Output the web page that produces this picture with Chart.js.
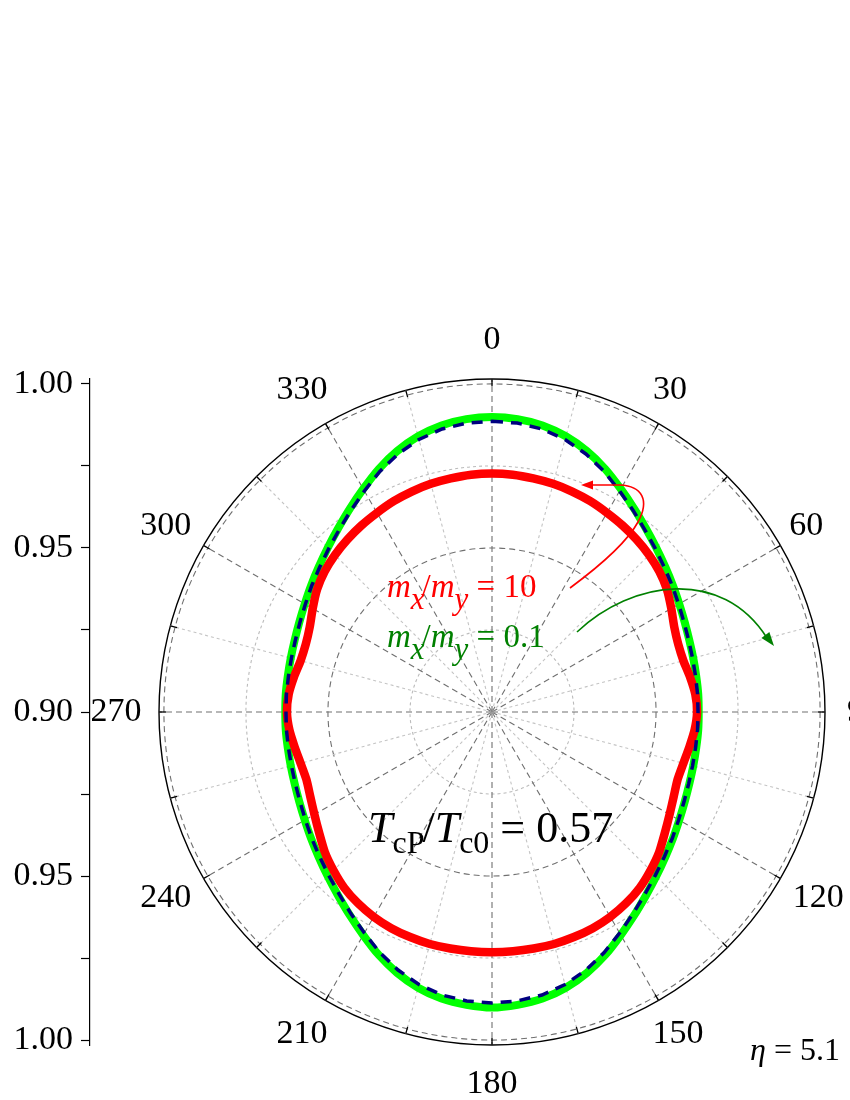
<!DOCTYPE html>
<html>
<head>
<meta charset="utf-8">
<script src="https://cdn.jsdelivr.net/npm/chart.js@4.4.1/dist/chart.umd.min.js"></script>
<style>
  html, body { margin: 0; padding: 0; background: #fff; }
  #wrap { width: 850px; height: 1100px; }
</style>
</head>
<body>
<div id="wrap"><canvas id="polar" width="850" height="1100"></canvas></div>
<script>
// angles (deg, clockwise from top) every 5 degrees
const angles = [];
for (let a = 0; a < 360; a += 5) angles.push(String(a));

// labelled angles around the rim
const angleTicks = [0, 30, 60, 90, 120, 150, 180, 210, 240, 270, 300, 330];

// left axis ticks (0.80..0.90 is the mirrored lower half)
const yTickValues = [0.80, 0.825, 0.85, 0.875, 0.90, 0.925, 0.95, 0.975, 1.00];
// radial grid circles
const rTickValues = [0.90, 0.925, 0.95, 0.975, 1.00, 1.0015];

// m_x/m_y = 0.1 (green, thick)
const greenVals = [
    0.9899, 0.9896, 0.9887, 0.9870, 0.9846, 0.9817, 0.9785, 0.9756, 0.9730, 0.9708,
    0.9689, 0.9673, 0.9659, 0.9648, 0.9640, 0.9635, 0.9632, 0.9631, 0.9630, 0.9631,
    0.9632, 0.9635, 0.9640, 0.9648, 0.9659, 0.9673, 0.9689, 0.9708, 0.9730, 0.9756,
    0.9785, 0.9817, 0.9846, 0.9870, 0.9887, 0.9896, 0.9901, 0.9896, 0.9887, 0.9870,
    0.9846, 0.9817, 0.9785, 0.9756, 0.9730, 0.9708, 0.9689, 0.9673, 0.9659, 0.9648,
    0.9640, 0.9635, 0.9632, 0.9631, 0.9630, 0.9631, 0.9632, 0.9635, 0.9640, 0.9648,
    0.9659, 0.9673, 0.9689, 0.9708, 0.9730, 0.9756, 0.9785, 0.9817, 0.9846, 0.9870,
    0.9887, 0.9896
];

// navy dashed curve
const navyVals = [
    0.9886, 0.9884, 0.9876, 0.9860, 0.9837, 0.9809, 0.9778, 0.9750, 0.9725, 0.9704,
    0.9686, 0.9671, 0.9657, 0.9646, 0.9638, 0.9633, 0.9630, 0.9629, 0.9628, 0.9629,
    0.9630, 0.9633, 0.9638, 0.9646, 0.9657, 0.9671, 0.9686, 0.9704, 0.9725, 0.9750,
    0.9778, 0.9809, 0.9837, 0.9860, 0.9876, 0.9884, 0.9887, 0.9884, 0.9876, 0.9860,
    0.9837, 0.9809, 0.9778, 0.9750, 0.9725, 0.9704, 0.9686, 0.9671, 0.9657, 0.9646,
    0.9638, 0.9633, 0.9630, 0.9629, 0.9628, 0.9629, 0.9630, 0.9633, 0.9638, 0.9646,
    0.9657, 0.9671, 0.9686, 0.9704, 0.9725, 0.9750, 0.9778, 0.9809, 0.9837, 0.9860,
    0.9876, 0.9884
];

// m_x/m_y = 10 (red, thick)
const redVals = [
    0.9727, 0.9726, 0.9723, 0.9720, 0.9715, 0.9709, 0.9701, 0.9694, 0.9686, 0.9677,
    0.9666, 0.9651, 0.9631, 0.9613, 0.9604, 0.9604, 0.9613, 0.9622, 0.9625, 0.9620,
    0.9611, 0.9604, 0.9602, 0.9611, 0.9625, 0.9643, 0.9665, 0.9683, 0.9700, 0.9712,
    0.9721, 0.9727, 0.9730, 0.9732, 0.9732, 0.9732, 0.9732, 0.9732, 0.9732, 0.9732,
    0.9730, 0.9727, 0.9721, 0.9712, 0.9700, 0.9683, 0.9665, 0.9643, 0.9625, 0.9611,
    0.9602, 0.9604, 0.9611, 0.9620, 0.9625, 0.9622, 0.9613, 0.9604, 0.9604, 0.9613,
    0.9631, 0.9651, 0.9666, 0.9677, 0.9686, 0.9694, 0.9701, 0.9709, 0.9715, 0.9720,
    0.9723, 0.9726
];

const SERIF = '"Liberation Serif", "Times New Roman", serif';

function drawRich(ctx, x, y, parts, color) {
    ctx.fillStyle = color;
    ctx.textAlign = 'left';
    ctx.textBaseline = 'alphabetic';
    for (const p of parts) {
        ctx.font = (p.i ? 'italic ' : '') + p.s + 'px ' + SERIF;
        ctx.fillText(p.t, x, y + (p.dy || 0));
        x += ctx.measureText(p.t).width + (p.k || 0);
    }
}

function arrowHead(ctx, tipX, tipY, fromX, fromY, len, half, color) {
    const ang = Math.atan2(tipY - fromY, tipX - fromX);
    ctx.fillStyle = color;
    ctx.beginPath();
    ctx.moveTo(tipX, tipY);
    ctx.lineTo(tipX - len * Math.cos(ang) + half * Math.sin(ang), tipY - len * Math.sin(ang) - half * Math.cos(ang));
    ctx.lineTo(tipX - len * Math.cos(ang) - half * Math.sin(ang), tipY - len * Math.sin(ang) + half * Math.cos(ang));
    ctx.closePath();
    ctx.fill();
}

// small horizontal nudges so the rim labels sit like the original
function labelNudge(deg) {
    if (deg === 30 || deg === 60) return -8;
    if (deg === 120) return 4;
    if (deg > 180) return -4;
    return 0;
}

const polarDecor = {
    id: 'polarDecor',
    afterLayout(chart) {
        // move the mirrored radius axis to the far left of the canvas
        const y = chart.scales.y;
        y.left = 0;
        y.right = 90;
        y.width = 90;
    },
    afterDraw(chart) {
        const ctx = chart.ctx;
        const r = chart.scales.r;
        const cx = r.xCenter, cy = r.yCenter, R = r.drawingArea;
        ctx.save();

        // small ticks on the rim every 15 degrees
        ctx.strokeStyle = '#000';
        ctx.lineWidth = 1.3;
        for (let i = 0; i < angles.length; i += 3) {
            const a = r.getPointPosition(i, R);
            const b = r.getPointPosition(i, R - 7);
            ctx.beginPath();
            ctx.moveTo(a.x, a.y);
            ctx.lineTo(b.x, b.y);
            ctx.stroke();
        }

        // angle labels
        ctx.fillStyle = '#000';
        ctx.font = '34px ' + SERIF;
        ctx.textAlign = 'center';
        ctx.textBaseline = 'middle';
        angleTicks.forEach(deg => {
            const p = r.getPointPosition(angles.indexOf(String(deg)), R + 39);
            ctx.fillText(String(deg), p.x + labelNudge(deg), p.y);
        });

        // legend texts
        drawRich(ctx, cx - 105, cy - 115, [
            {t: 'm', i: true, s: 33}, {t: 'x', i: true, s: 31, dy: 12, k: -3},
            {t: '/', s: 33}, {t: 'm', i: true, s: 33}, {t: 'y', i: true, s: 31, dy: 12},
            {t: ' = 10', s: 33}
        ], '#ff0000');
        drawRich(ctx, cx - 105, cy - 65, [
            {t: 'm', i: true, s: 33}, {t: 'x', i: true, s: 31, dy: 12, k: -3},
            {t: '/', s: 33}, {t: 'm', i: true, s: 33}, {t: 'y', i: true, s: 31, dy: 12},
            {t: ' = 0.1', s: 33}
        ], '#008000');
        drawRich(ctx, cx - 124, cy + 130, [
            {t: 'T', i: true, s: 44}, {t: 'cP', s: 32, dy: 11, k: -2},
            {t: '/', s: 44}, {t: 'T', i: true, s: 44}, {t: 'c0', s: 32, dy: 11},
            {t: ' = 0.57', s: 44}
        ], '#000');
        drawRich(ctx, cx + 258, cy + 348, [
            {t: '\u03b7', i: true, s: 32}, {t: ' = 5.1', s: 32}
        ], '#000');

        // red hook arrow
        ctx.strokeStyle = '#ff0000';
        ctx.lineWidth = 1.6;
        ctx.beginPath();
        ctx.moveTo(cx + 78, cy - 124);
        ctx.quadraticCurveTo(cx + 132, cy - 164, cx + 146, cy - 190);
        ctx.bezierCurveTo(cx + 158, cy - 212, cx + 150, cy - 226, cx + 128, cy - 227);
        ctx.lineTo(cx + 100, cy - 227);
        ctx.stroke();
        arrowHead(ctx, cx + 89, cy - 227, cx + 110, cy - 227, 12, 4.5, '#ff0000');

        // green arrow
        ctx.strokeStyle = '#008000';
        ctx.beginPath();
        ctx.moveTo(cx + 85, cy - 80);
        ctx.bezierCurveTo(cx + 140, cy - 132, cx + 230, cy - 145, cx + 275, cy - 74);
        ctx.stroke();
        arrowHead(ctx, cx + 282, cy - 66, cx + 268, cy - 84, 14, 5, '#008000');

        ctx.restore();
    }
};

const isMajor = v => Math.abs(v * 20 - Math.round(v * 20)) < 1e-6;

new Chart(document.getElementById('polar'), {
    type: 'radar',
    data: {
        labels: angles,
        datasets: [
            {
                label: 'navy',
                data: navyVals,
                borderColor: '#000080',
                borderWidth: 3.5,
                borderDash: [11, 8],
                fill: false,
                pointRadius: 0
            },
            {
                label: 'mx/my = 10',
                data: redVals,
                borderColor: '#ff0000',
                borderWidth: 8.5,
                fill: false,
                pointRadius: 0,
                tension: 0.2
            },
            {
                label: 'mx/my = 0.1',
                data: greenVals,
                borderColor: '#00ff00',
                borderWidth: 8,
                fill: false,
                pointRadius: 0,
                tension: 0.2
            }
        ]
    },
    options: {
        responsive: false,
        animation: false,
        layout: { padding: { left: 159, right: 25, top: 379, bottom: 55 } },
        plugins: { legend: { display: false }, tooltip: { enabled: false } },
        scales: {
            r: {
                min: 0.90,
                max: 1.0015,
                startAngle: 0,
                afterBuildTicks: axis => { axis.ticks = rTickValues.map(v => ({ value: v })); },
                ticks: { display: false },
                pointLabels: { display: false },
                grid: {
                    circular: true,
                    color: ctx => {
                        const v = ctx.tick ? ctx.tick.value : 0;
                        if (v > 1.0001) return '#000';
                        return isMajor(v) ? '#707070' : '#bbb';
                    },
                    lineWidth: ctx => (ctx.tick && ctx.tick.value > 1.0001) ? 1.4 : 1.1
                },
                border: {
                    dash: ctx => {
                        const v = ctx.tick ? ctx.tick.value : 0;
                        if (v > 1.0001) return [];
                        return isMajor(v) ? [6, 4] : [3, 3];
                    }
                },
                angleLines: {
                    display: true,
                    color: ctx => {
                        const deg = ctx.index * 5;
                        if (deg % 30 === 0) return '#707070';
                        if (deg % 15 === 0) return '#c4c4c4';
                        return 'rgba(0,0,0,0)';
                    },
                    lineWidth: ctx => ((ctx.index * 5) % 15 === 0 ? 1.1 : 0),
                    borderDash: ctx => ((ctx.index * 5) % 30 === 0 ? [6, 4] : [3, 3])
                }
            },
            y: {
                type: 'linear',
                position: 'left',
                min: 0.7985,
                max: 1.0015,
                afterFit: s => { s.width = 0; },
                afterBuildTicks: axis => { axis.ticks = yTickValues.map(v => ({ value: v })); },
                ticks: {
                    autoSkip: false,
                    padding: 8,
                    color: '#000',
                    font: { family: SERIF, size: 34 },
                    callback: v => isMajor(v) ? (v >= 0.9 ? v : 1.8 - v).toFixed(2) : ''
                },
                grid: {
                    drawOnChartArea: false,
                    drawTicks: true,
                    tickLength: 9,
                    color: '#000',
                    tickWidth: 1.2
                },
                border: { display: true, color: '#000', width: 1.2 }
            }
        }
    },
    plugins: [polarDecor]
});
</script>
</body>
</html>
